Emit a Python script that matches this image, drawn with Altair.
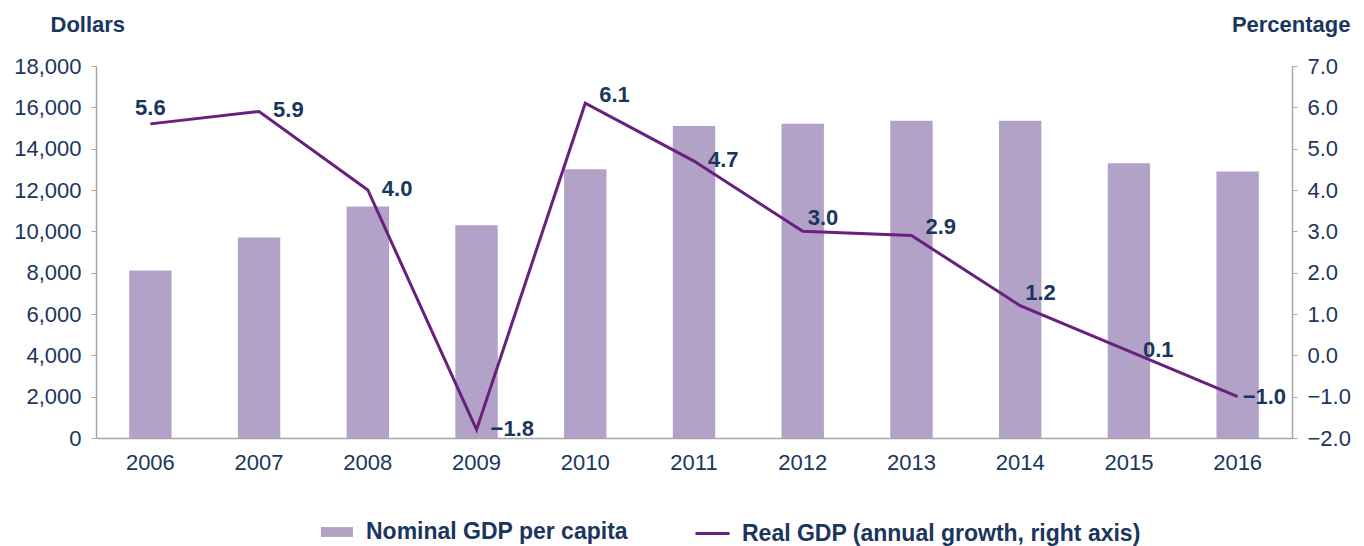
import altair as alt
import pandas as pd

years = ["2006", "2007", "2008", "2009", "2010", "2011", "2012", "2013", "2014", "2015", "2016"]
nominal_gdp_pc = [8100, 9700, 11200, 10300, 13000, 15100, 15200, 15350, 15350, 13300, 12900]
real_growth = [5.6, 5.9, 4.0, -1.8, 6.1, 4.7, 3.0, 2.9, 1.2, 0.1, -1.0]
label_place = ["above", "right", "right", "right", "upright", "right",
               "aboveright", "upright", "aboveright", "right", "near"]

bar_name = "Nominal GDP per capita"
line_name = "Real GDP (annual growth, right axis)"

df = pd.DataFrame({
    "year": years,
    "gdp": nominal_gdp_pc,
    "growth": real_growth,
    "place": label_place,
})
df["bar_series"] = bar_name
df["line_series"] = line_name

NAVY = "#1b365d"
BAR = "#b3a2c7"
LINE = "#68207f"
GRAY = "#a6a6a6"
FONT = "Liberation Sans"

x_enc = alt.X(
    "year:N",
    sort=years,
    bandPosition=0.5,
    scale=alt.Scale(paddingInner=0.61, paddingOuter=0.305),
    axis=alt.Axis(title=None, ticks=False, labelPadding=14, labelAngle=0,
                  domainColor=GRAY, domainWidth=1.5),
)

base = alt.Chart(df)

bars = base.mark_bar(color=BAR).encode(
    x=x_enc,
    y=alt.Y(
        "gdp:Q",
        scale=alt.Scale(domain=[0, 18000], nice=False),
        axis=alt.Axis(
            title="Dollars", values=list(range(0, 18001, 2000)), format=",.0f",
            orient="left", titleAngle=0, titleAlign="left", titleBaseline="alphabetic",
            titleX=-46, titleY=-35, titleFontWeight="bold",
            tickSize=5, labelPadding=10, domainColor=GRAY, tickColor=GRAY,
            domainWidth=1.5,
        ),
    ),
    fill=alt.Fill(
        "bar_series:N",
        scale=alt.Scale(domain=[bar_name], range=[BAR]),
        legend=alt.Legend(
            title=None, orient="none", legendX=225, legendY=450,
            symbolType="M-1,-0.31H1V0.31H-1Z", symbolSize=1024, symbolStrokeWidth=0,
            labelOffset=13, labelFontWeight="bold", labelLimit=1000,
        ),
    ),
)

y_right = alt.Y(
    "growth:Q",
    scale=alt.Scale(domain=[-2, 7], nice=False),
    axis=alt.Axis(
        title="Percentage", values=list(range(-2, 8)), format=".1f",
        orient="right", titleAngle=0, titleAlign="right", titleBaseline="alphabetic",
        titleX=58, titleY=-35, titleFontWeight="bold",
        tickSize=5, labelPadding=10, domainColor=GRAY, tickColor=GRAY,
        domainWidth=1.5,
    ),
)

line = base.mark_line(strokeWidth=3).encode(
    x=x_enc,
    y=y_right,
    stroke=alt.Stroke(
        "line_series:N",
        scale=alt.Scale(domain=[line_name], range=[LINE]),
        legend=alt.Legend(
            title=None, orient="none", legendX=598, legendY=449,
            symbolType="stroke", symbolSize=1156, symbolStrokeWidth=3,
            labelOffset=11, labelFontWeight="bold", labelLimit=1000,
        ),
    ),
)

placements = {
    "above": dict(align="center", dx=0, dy=-16),
    "right": dict(align="left", dx=14, dy=-1),
    "upright": dict(align="left", dx=14, dy=-8),
    "aboveright": dict(align="left", dx=5, dy=-13),
    "near": dict(align="left", dx=5, dy=0),
}

texts = []
for name, opts in placements.items():
    texts.append(
        base.transform_filter(alt.datum.place == name)
        .mark_text(fontSize=22, fontWeight="bold", color=NAVY, baseline="middle",
                   font=FONT, **opts)
        .encode(x=x_enc, y=y_right, text=alt.Text("growth:Q", format=".1f"))
    )

right_layer = alt.layer(line, *texts)

chart = (
    alt.layer(bars, right_layer)
    .resolve_scale(y="independent", fill="independent", stroke="independent")
    .properties(width=1196, height=372, padding=5)
    .configure(font=FONT)
    .configure_view(stroke=None)
    .configure_axis(labelFont=FONT, labelFontSize=22, labelColor=NAVY,
                    titleFont=FONT, titleFontSize=22, titleColor=NAVY, grid=False)
    .configure_legend(labelFont=FONT, labelFontSize=23, labelColor=NAVY)
)

chart.save("out.html", embed_options={"renderer": "svg", "actions": False})
